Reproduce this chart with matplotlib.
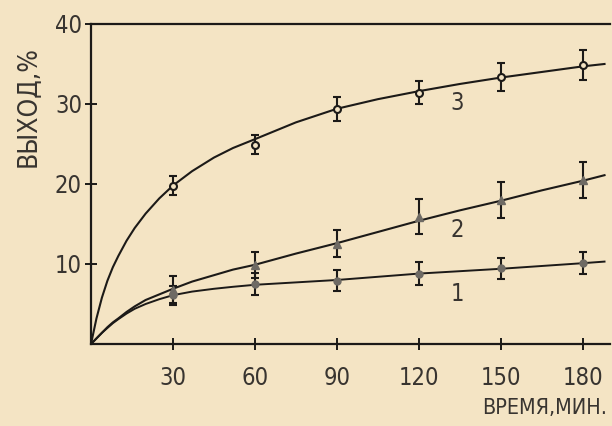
import matplotlib.pyplot as plt
import numpy as np

# measured points (time, min) and yields, %
t = [30, 60, 90, 120, 150, 180]
y1 = [6.1, 7.5, 7.9, 8.8, 9.45, 10.1]
e1 = [1.2, 1.35, 1.3, 1.45, 1.35, 1.35]
y2 = [6.8, 9.85, 12.55, 15.9, 18.0, 20.5]
e2 = [1.7, 1.6, 1.7, 2.2, 2.2, 2.2]
y3 = [19.8, 24.9, 29.4, 31.4, 33.4, 34.9]
e3 = [1.2, 1.2, 1.5, 1.45, 1.75, 1.9]

# drawn curves
ct = [0, 2, 4, 6, 8, 10, 13, 16, 20, 25, 30, 37, 45, 52, 60, 75, 90, 105, 120, 135, 150, 165, 180, 188]
c1 = [0, 0.7, 1.4, 2.0, 2.6, 3.1, 3.8, 4.4, 5.0, 5.6, 6.1, 6.55, 6.9, 7.15, 7.4, 7.7, 8.0, 8.4, 8.8, 9.1, 9.4, 9.75, 10.1, 10.3]
c2 = [0, 0.7, 1.4, 2.1, 2.7, 3.2, 4.0, 4.7, 5.5, 6.2, 6.9, 7.8, 8.6, 9.3, 9.9, 11.3, 12.6, 14.0, 15.4, 16.7, 17.9, 19.2, 20.4, 21.1]
c3 = [0, 3.2, 5.8, 7.9, 9.6, 11.0, 12.9, 14.5, 16.3, 18.2, 19.8, 21.6, 23.3, 24.5, 25.6, 27.7, 29.4, 30.6, 31.6, 32.5, 33.3, 34.0, 34.7, 35.0]

labels = ['1', '2', '3']
label_pos = [(134, 6.3), (134, 14.2), (134, 30.1)]

bg = '#f4e4c4'
ink = '#1c1a18'
grey = '#6e6a64'
txt = '#383430'

plt.rcParams['font.family'] = ['DejaVu Sans']
plt.rcParams['font.stretch'] = 'condensed'

fig = plt.figure(figsize=(6.12, 4.26), dpi=100, facecolor=bg)
ax = fig.add_axes([0.1487, 0.1925, 0.848, 0.7512])
ax.set_facecolor(bg)

ax.plot(ct, c1, color=ink, lw=1.4)
ax.plot(ct, c2, color=ink, lw=1.5)
ax.plot(ct, c3, color=ink, lw=1.5)

ax.errorbar(t, y1, yerr=e1, fmt='o', ms=5, color=grey, mfc=grey, mec=grey,
            ecolor=ink, elinewidth=1.5, capsize=3, capthick=1.5)
ax.errorbar(t, y2, yerr=e2, fmt='^', ms=6, color=grey, mfc=grey, mec=grey,
            ecolor=ink, elinewidth=1.5, capsize=3, capthick=1.5)
ax.errorbar(t, y3, yerr=e3, fmt='o', ms=5, color=ink, mfc=bg, mec=ink, mew=1.5,
            ecolor=ink, elinewidth=1.5, capsize=3, capthick=1.5)

for s, (px, py) in zip(labels, label_pos):
    ax.text(px, py, s, fontsize=17, color=txt, ha='center', va='center')

ax.set_xlim(0, 190)
ax.set_ylim(0, 40)
ax.set_xticks(t)
ax.set_yticks([10, 20, 30, 40])
ax.tick_params(direction='inout', length=9, width=1.4, color=ink, labelsize=17,
               labelcolor=txt)
ax.tick_params(axis='x', pad=11)
ax.tick_params(axis='y', pad=2)

ax.spines['right'].set_visible(False)
for sp in ['left', 'bottom', 'top']:
    ax.spines[sp].set_linewidth(1.6)
    ax.spines[sp].set_color(ink)

fig.text(0.046, 0.749, 'ВЫХОД,%', rotation=90, fontsize=19, color=txt,
         ha='center', va='center')
fig.text(0.992, 0.043, 'ВРЕМЯ,МИН.', fontsize=15.5, color=txt,
         ha='right', va='center')

fig.savefig('out.png', dpi=100, facecolor=bg)
